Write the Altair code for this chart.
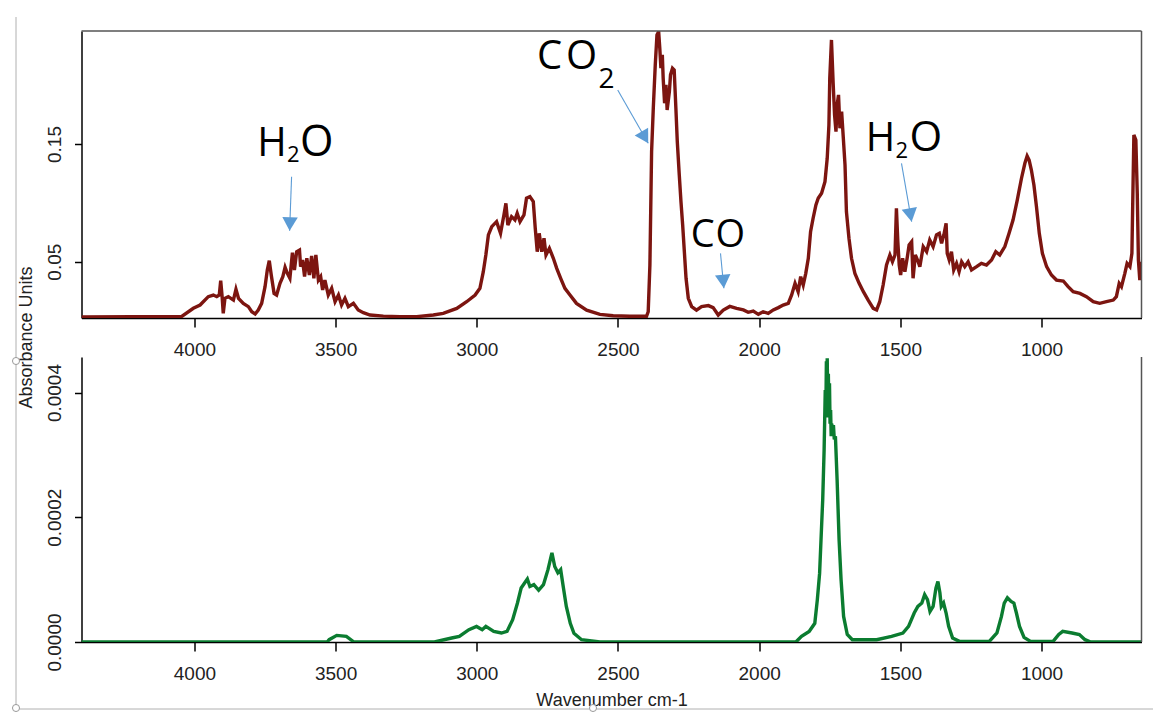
import altair as alt
import pandas as pd

# ---------------- data ----------------
X_DOMAIN = [4400, 646]
X_TICKS = [4000, 3500, 3000, 2500, 2000, 1500, 1000]
TOP_Y_DOMAIN = [0.00217, 0.246]
TOP_Y_TICKS = [0.05, 0.15]
BOT_Y_DOMAIN = [0.0, 0.000457]
BOT_Y_TICKS = [0.0, 0.0002, 0.0004]

TOP_WN = [4400, 4045, 4004, 3980, 3951, 3933, 3921, 3912, 3907, 3902, 3898, 3892, 3880, 3862, 3853, 3844,
          3827, 3809, 3797, 3785, 3774, 3762, 3750, 3742, 3735, 3728, 3718, 3709, 3697, 3687, 3679, 3671,
          3662, 3653, 3646, 3638, 3628, 3624, 3617, 3610, 3602, 3593, 3585, 3577, 3570, 3561, 3553, 3546,
          3538, 3526, 3514, 3502, 3490, 3479, 3467, 3455, 3437, 3420, 3402, 3378, 3331, 3272, 3213, 3154,
          3119, 3071, 3036, 3006, 2989, 2977, 2968, 2959, 2947, 2930, 2916, 2904, 2897, 2890, 2877, 2865,
          2857, 2847, 2833, 2824, 2812, 2800, 2793, 2786, 2779, 2770, 2762, 2755, 2743, 2729, 2717, 2703,
          2688, 2670, 2647, 2611, 2564, 2517, 2458, 2399, 2393, 2387, 2381, 2375, 2368, 2362, 2356, 2352,
          2348, 2343, 2340, 2335, 2330, 2326, 2318, 2314, 2307, 2301, 2295, 2290, 2283, 2277, 2271, 2265,
          2259, 2251, 2239, 2222, 2204, 2180, 2163, 2145, 2127, 2104, 2080, 2056, 2039, 2021, 2003, 1986,
          1968, 1950, 1932, 1915, 1897, 1885, 1873, 1862, 1853, 1844, 1835, 1826, 1818, 1809, 1799, 1791,
          1779, 1767, 1759, 1753, 1750, 1744, 1738, 1733, 1728, 1724, 1719, 1714, 1708, 1702, 1696, 1691,
          1682, 1673, 1661, 1646, 1631, 1614, 1596, 1584, 1573, 1561, 1549, 1537, 1528, 1519, 1514, 1509,
          1504, 1499, 1492, 1484, 1476, 1469, 1460, 1455, 1447, 1437, 1431, 1419, 1407, 1396, 1384, 1372,
          1362, 1354, 1346, 1338, 1334, 1327, 1319, 1311, 1301, 1292, 1283, 1272, 1260, 1248, 1230, 1213,
          1195, 1177, 1162, 1148, 1130, 1115, 1101, 1086, 1071, 1059, 1051, 1044, 1036, 1027, 1018, 1008,
          997, 982, 965, 947, 923, 906, 888, 864, 841, 817, 794, 770, 746, 735, 725, 717,
          705, 697, 687, 680, 673, 666, 661, 657, 652, 647]
TOP_ABS = [0.0030, 0.0035, 0.0104, 0.0132, 0.0203, 0.0217, 0.0203, 0.0217, 0.0339, 0.0203, 0.0061, 0.0189, 0.0203, 0.0174, 0.0265, 0.0189,
           0.0146, 0.0118, 0.0075, 0.0056, 0.0090, 0.0146, 0.0288, 0.0430, 0.0509, 0.0387, 0.0231, 0.0217, 0.0316, 0.0373, 0.0452, 0.0401,
           0.0359, 0.0577, 0.0430, 0.0585, 0.0599, 0.0458, 0.0514, 0.0373, 0.0529, 0.0387, 0.0549, 0.0359, 0.0557, 0.0344, 0.0373, 0.0260,
           0.0344, 0.0217, 0.0274, 0.0160, 0.0217, 0.0132, 0.0189, 0.0118, 0.0146, 0.0090, 0.0067, 0.0047, 0.0038, 0.0033, 0.0033, 0.0047,
           0.0061, 0.0103, 0.0160, 0.0217, 0.0274, 0.0415, 0.0557, 0.0727, 0.0798, 0.0840, 0.0741, 0.0897, 0.0996, 0.0812, 0.0883, 0.0855,
           0.0911, 0.0840, 0.0897, 0.1039, 0.1053, 0.1010, 0.0784, 0.0585, 0.0741, 0.0585, 0.0699, 0.0557, 0.0614, 0.0529, 0.0443, 0.0359,
           0.0274, 0.0217, 0.0146, 0.0089, 0.0053, 0.0041, 0.0036, 0.0036, 0.0075, 0.0472, 0.1435, 0.1804, 0.2172, 0.2427, 0.2455, 0.2314,
           0.2144, 0.2257, 0.2059, 0.1846, 0.2002, 0.1789, 0.1945, 0.2087, 0.2144, 0.2129, 0.1804, 0.1520, 0.1237, 0.1010, 0.0812, 0.0585,
           0.0359, 0.0189, 0.0118, 0.0089, 0.0118, 0.0127, 0.0110, 0.0047, 0.0089, 0.0120, 0.0104, 0.0090, 0.0070, 0.0081, 0.0053, 0.0075,
           0.0061, 0.0090, 0.0110, 0.0132, 0.0146, 0.0217, 0.0316, 0.0245, 0.0373, 0.0302, 0.0401, 0.0529, 0.0755, 0.0869, 0.0982, 0.1039,
           0.1081, 0.1180, 0.1379, 0.1662, 0.2059, 0.2384, 0.2016, 0.1747, 0.1605, 0.1832, 0.1917, 0.1634, 0.1775, 0.1549, 0.1322, 0.0925,
           0.0699, 0.0529, 0.0401, 0.0316, 0.0245, 0.0174, 0.0104, 0.0090, 0.0160, 0.0302, 0.0472, 0.0557, 0.0500, 0.0557, 0.0954, 0.0670,
           0.0472, 0.0387, 0.0529, 0.0415, 0.0529, 0.0642, 0.0670, 0.0359, 0.0557, 0.0500, 0.0458, 0.0628, 0.0585, 0.0684, 0.0628, 0.0727,
           0.0741, 0.0656, 0.0727, 0.0826, 0.0571, 0.0515, 0.0585, 0.0430, 0.0486, 0.0415, 0.0500, 0.0458, 0.0500, 0.0430, 0.0458, 0.0486,
           0.0472, 0.0515, 0.0585, 0.0557, 0.0628, 0.0741, 0.0854, 0.1024, 0.1209, 0.1336, 0.1398, 0.1364, 0.1279, 0.1152, 0.0968, 0.0741,
           0.0571, 0.0458, 0.0387, 0.0344, 0.0336, 0.0288, 0.0245, 0.0231, 0.0203, 0.0160, 0.0146, 0.0160, 0.0174, 0.0203, 0.0316, 0.0288,
           0.0401, 0.0486, 0.0458, 0.0571, 0.1577, 0.1534, 0.1081, 0.0515, 0.0344, 0.0500]

BOT_WN = [4400, 3530, 3523, 3496, 3462, 3435, 3150, 3089, 3062, 3028, 3001, 2981, 2968, 2940, 2913, 2893,
          2873, 2856, 2843, 2821, 2812, 2798, 2781, 2764, 2748, 2734, 2724, 2713, 2703, 2694, 2683, 2669,
          2656, 2629, 2564, 1870, 1850, 1823, 1803, 1794, 1786, 1781, 1775, 1770, 1766, 1764, 1762, 1761,
          1759, 1757, 1755, 1753, 1751, 1749, 1747, 1745, 1743, 1740, 1737, 1734, 1730, 1724, 1717, 1710,
          1701, 1688, 1670, 1584, 1531, 1491, 1471, 1451, 1438, 1424, 1414, 1404, 1395, 1384, 1374, 1367,
          1360, 1355, 1347, 1338, 1329, 1315, 1291, 1185, 1158, 1142, 1132, 1121, 1108, 1098, 1089, 1078,
          1062, 1039, 959, 939, 925, 892, 866, 846, 826, 646]
BOT_ABS = [0.0, 0.0, 3.7e-6, 1.06e-5, 9.0e-6, 0.0, 0.0, 6.4e-6, 9.0e-6, 1.97e-5, 2.5e-5, 1.97e-5, 2.5e-5, 1.7e-5, 1.44e-5, 1.7e-5,
           3.57e-5, 6.25e-5, 8.65e-5, 1.01e-4, 8.9e-5, 9.2e-5, 8.3e-5, 9.2e-5, 1.16e-4, 1.43e-4, 1.21e-4, 1.11e-4, 1.16e-4, 8.9e-5, 5.7e-5, 3.0e-5,
           1.4e-5, 3.7e-6, 0.0, 0.0, 9.0e-6, 1.7e-5, 3.0e-5, 6.8e-5, 1.1e-4, 1.64e-4, 2.28e-4, 3.08e-4, 4.04e-4, 3.6e-4, 4.5e-4, 3.9e-4,
           4.55e-4, 3.7e-4, 4.3e-4, 3.6e-4, 4.15e-4, 3.5e-4, 3.72e-4, 3.3e-4, 3.5e-4, 3.3e-4, 3.48e-4, 3.25e-4, 3.3e-4, 2.6e-4, 1.64e-4, 1.0e-4,
           4.1e-5, 1.2e-5, 3.7e-6, 3.7e-6, 9.0e-6, 1.44e-5, 2.5e-5, 4.65e-5, 5.7e-5, 6.25e-5, 7.6e-5, 6.8e-5, 4.9e-5, 5.7e-5, 8.65e-5, 9.7e-5,
           7.9e-5, 5.7e-5, 6.25e-5, 4.65e-5, 2.5e-5, 6.4e-6, 1.0e-6, 1.0e-6, 1.44e-5, 4.1e-5, 6.25e-5, 7.1e-5, 6.5e-5, 6.25e-5, 4.65e-5, 2.5e-5,
           7.4e-6, 1.0e-6, 1.0e-6, 1.2e-5, 1.7e-5, 1.44e-5, 1.2e-5, 3.7e-6, 0.0, 0.0]

# annotation labels (anchored in data coordinates)
ANN_TEXT = ["H", "2", "O", "C", "O", "2", "C", "O", "H", "2", "O"]
ANN_WN = [3778, 3672, 3626, 2787, 2684, 2569, 2242, 2155, 1623, 1517, 1468]
ANN_ABS = [0.1398, 0.1350, 0.1398, 0.2139, 0.2139, 0.1974, 0.0627, 0.0627, 0.1441, 0.1384, 0.1441]
ANN_FONT = [40, 22, 43, 40, 40, 28, 38, 38, 40, 22, 42]

# arrows: start -> tip
ARR_WN0 = [3656, 2501, 2137, 1496]
ARR_ABS0 = [0.1222, 0.1959, 0.0571, 0.1336]
ARR_WN1 = [3663, 2393, 2125, 1460]
ARR_ABS1 = [0.0763, 0.1506, 0.0274, 0.0840]
ARR_ANGLE = [2, 330, 355, 350]

# ---------------- styling ----------------
RED = "#7c1510"
GREEN = "#0b7c30"
BLUE = "#5b9bd5"
FRAME = "#555555"
W = 1060
H_TOP = 287
H_BOT = 285

xs = alt.Scale(domain=X_DOMAIN, nice=False, zero=False)
ys_top = alt.Scale(domain=TOP_Y_DOMAIN, nice=False, zero=False)
ys_bot = alt.Scale(domain=BOT_Y_DOMAIN, nice=False, zero=False)

common_axis = dict(grid=False, domainColor="black", tickColor="black", labelColor="#222222",
                   labelFont="Liberation Sans", domainWidth=1.5, tickWidth=1.5,
                   labelFlush=False, labelOverlap=False)


def x_axis(title=None):
    kw = dict(values=X_TICKS, format="d", labelFontSize=19, tickSize=9, labelPadding=13, **common_axis)
    if title is not None:
        kw.update(title=title, titleFont="Liberation Sans", titleFontSize=18, titleFontWeight="normal",
                  titleColor="#222222", titleY=49, titleBaseline="top")
    else:
        kw.update(title=None)
    return alt.Axis(**kw)


def y_axis(values, fmt, title=None):
    kw = dict(values=values, format=fmt, labelFontSize=19, tickSize=7, labelPadding=10,
              labelAngle=270, labelAlign="center", labelBaseline="bottom", **common_axis)
    if title is not None:
        kw.update(title=title, titleFont="Liberation Sans", titleFontSize=18, titleFontWeight="normal",
                  titleColor="#222222", titleAngle=270, titleX=-46, titleY=306,
                  titleAlign="center", titleBaseline="bottom")
    else:
        kw.update(title=None)
    return alt.Axis(**kw)


XA_TOP = x_axis()
YA_TOP = y_axis(TOP_Y_TICKS, ".2f", "Absorbance Units")
XA_BOT = x_axis("Wavenumber cm-1")
YA_BOT = y_axis(BOT_Y_TICKS, ".4f")

top_df = pd.DataFrame({"wn": TOP_WN, "a": TOP_ABS})
bot_df = pd.DataFrame({"wn": BOT_WN, "a": BOT_ABS})
ann_df = pd.DataFrame({"wn": ANN_WN, "a": ANN_ABS, "t": ANN_TEXT, "fs": ANN_FONT})
arr_df = pd.DataFrame({"wn0": ARR_WN0, "a0": ARR_ABS0, "wn1": ARR_WN1, "a1": ARR_ABS1, "ang": ARR_ANGLE})

# ---------------- top panel ----------------
top_line = alt.Chart(top_df).mark_line(color=RED, strokeWidth=3.4, clip=True).encode(
    x=alt.X("wn:Q", scale=xs, axis=XA_TOP),
    y=alt.Y("a:Q", scale=ys_top, axis=YA_TOP),
)

top_frame_top = alt.Chart(pd.DataFrame({"x0": [X_DOMAIN[0]], "x1": [X_DOMAIN[1]], "y": [TOP_Y_DOMAIN[1]]})).mark_rule(
    color=FRAME, strokeWidth=1.5).encode(
    x=alt.X("x0:Q", scale=xs, axis=XA_TOP), x2="x1:Q", y=alt.Y("y:Q", scale=ys_top, axis=YA_TOP))
top_frame_right = alt.Chart(pd.DataFrame({"x": [X_DOMAIN[1]], "y0": [TOP_Y_DOMAIN[0]], "y1": [TOP_Y_DOMAIN[1]]})).mark_rule(
    color=FRAME, strokeWidth=1.5).encode(
    x=alt.X("x:Q", scale=xs, axis=XA_TOP), y=alt.Y("y0:Q", scale=ys_top, axis=YA_TOP), y2="y1:Q")

arrow_lines = alt.Chart(arr_df).mark_rule(color=BLUE, strokeWidth=1.1).encode(
    x=alt.X("wn0:Q", scale=xs, axis=XA_TOP), x2="wn1:Q",
    y=alt.Y("a0:Q", scale=ys_top, axis=YA_TOP), y2="a1:Q")
arrow_heads = alt.Chart(arr_df).mark_point(
    shape="M0,0L-1,-1.75L1,-1.75Z", filled=True, color=BLUE, opacity=1, size=240).encode(
    x=alt.X("wn1:Q", scale=xs, axis=XA_TOP),
    y=alt.Y("a1:Q", scale=ys_top, axis=YA_TOP),
    angle=alt.Angle("ang:Q", scale=None))

ann_text = alt.Chart(ann_df).mark_text(align="left", baseline="alphabetic", font="Open Sans",
                                       color="black").encode(
    x=alt.X("wn:Q", scale=xs, axis=XA_TOP),
    y=alt.Y("a:Q", scale=ys_top, axis=YA_TOP),
    text="t:N",
    size=alt.Size("fs:Q", scale=None))

top = alt.layer(top_line, top_frame_top, top_frame_right, arrow_lines, arrow_heads, ann_text).properties(
    width=W, height=H_TOP)

# ---------------- bottom panel ----------------
bot_line = alt.Chart(bot_df).mark_line(color=GREEN, strokeWidth=3.4, clip=True).encode(
    x=alt.X("wn:Q", scale=xs, axis=XA_BOT),
    y=alt.Y("a:Q", scale=ys_bot, axis=YA_BOT),
)
bot_frame_right = alt.Chart(pd.DataFrame({"x": [X_DOMAIN[1]], "y0": [BOT_Y_DOMAIN[0]], "y1": [BOT_Y_DOMAIN[1]]})).mark_rule(
    color=FRAME, strokeWidth=1.5).encode(
    x=alt.X("x:Q", scale=xs, axis=XA_BOT), y=alt.Y("y0:Q", scale=ys_bot, axis=YA_BOT), y2="y1:Q")

one = pd.DataFrame({"k": [0]})
GRAY = "#b0b0b0"
page_v = alt.Chart(one).mark_rule(color=GRAY, strokeWidth=1).encode(
    x=alt.value(-65.5), y=alt.value(-340), y2=alt.value(352))
page_h = alt.Chart(one).mark_rule(color=GRAY, strokeWidth=1).encode(
    x=alt.value(-65.5), x2=alt.value(1071.5), y=alt.value(352))
handles = [
    alt.Chart(one).mark_point(shape="circle", filled=True, fill="white", stroke="#9a9a9a",
                              strokeWidth=1, opacity=1, size=50).encode(x=alt.value(px), y=alt.value(py))
    for px, py in [(-65.5, 4), (-65.5, 351), (511.5, 351)]
]

bottom = alt.layer(bot_line, bot_frame_right, page_v, page_h, *handles).properties(width=W, height=H_BOT)

chart = alt.vconcat(top, bottom, spacing=39).properties(
    bounds="flush",
    padding={"left": 1.5, "top": 8, "right": 5, "bottom": 5},
    autosize=alt.AutoSizeParams(type="pad"),
    background="white",
).configure_view(stroke=None)

chart.save("out.html", embed_options={"renderer": "svg", "actions": False})
